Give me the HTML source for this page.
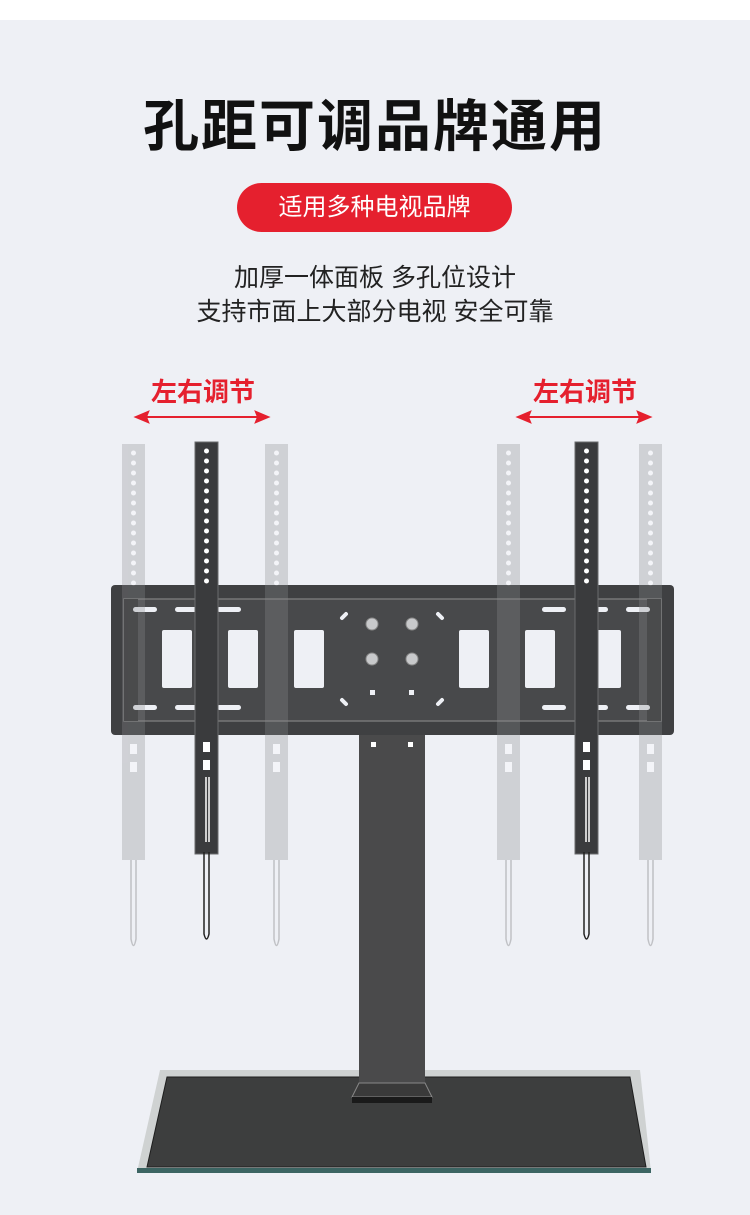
<!DOCTYPE html>
<html><head><meta charset="utf-8"><style>
html,body{margin:0;padding:0;}
body{width:750px;height:1215px;background:#eef0f5;position:relative;overflow:hidden;font-family:"Liberation Sans","Noto Sans CJK SC",sans-serif;}
.top{position:absolute;left:0;top:0;width:750px;height:20px;background:#fff;}
.t{position:absolute;left:0;width:750px;text-align:center;}
</style></head><body>
<div class="top"></div>
<div class="t" style="top:82px;font-size:56px;font-weight:bold;color:#111;letter-spacing:2px;">孔距可调品牌通用</div>
<div style="position:absolute;left:237px;top:183px;width:275px;height:49px;border-radius:25px;background:#e5202e;color:#fff;font-size:24px;line-height:49px;text-align:center;">适用多种电视品牌</div>
<div class="t" style="top:258px;font-size:25px;color:#222;">加厚一体面板 多孔位设计</div>
<div class="t" style="top:292px;font-size:25px;color:#222;">支持市面上大部分电视 安全可靠</div>
<div style="position:absolute;left:151px;top:372px;font-size:26px;font-weight:bold;color:#e5202e;">左右调节</div>
<div style="position:absolute;left:533px;top:372px;font-size:26px;font-weight:bold;color:#e5202e;">左右调节</div>
<svg width="750" height="1215" style="position:absolute;left:0;top:0">
<defs>
<g id="bar">
 <rect x="0" y="0" width="23" height="412" fill="#3a3b3d" stroke="#6a6b6d" stroke-width="1"/>
 <g fill="#fff">
  <circle cx="11.5" cy="9" r="2.5"/><circle cx="11.5" cy="19" r="2.5"/><circle cx="11.5" cy="29" r="2.5"/><circle cx="11.5" cy="39" r="2.5"/><circle cx="11.5" cy="49" r="2.5"/><circle cx="11.5" cy="59" r="2.5"/><circle cx="11.5" cy="69" r="2.5"/><circle cx="11.5" cy="79" r="2.5"/><circle cx="11.5" cy="89" r="2.5"/><circle cx="11.5" cy="99" r="2.5"/><circle cx="11.5" cy="109" r="2.5"/><circle cx="11.5" cy="119" r="2.5"/><circle cx="11.5" cy="129" r="2.5"/><circle cx="11.5" cy="139" r="2.5"/>
  <rect x="8" y="300" width="7" height="10"/><rect x="8" y="318" width="7" height="10"/>
 </g>
 <path d="M11 335 L11 400 M14 335 L14 400" stroke="#fff" stroke-width="1.5"/>
 <path d="M9 410 L9 492 Q11.5 502 14 492 L14 410" stroke="#222" stroke-width="1.5" fill="none"/>
</g>
<g id="gbar" opacity="0.3">
 <rect x="0" y="0" width="23" height="416" fill="#8a8c8f"/>
 <g fill="#fff">
  <circle cx="11.5" cy="9" r="2.5"/><circle cx="11.5" cy="19" r="2.5"/><circle cx="11.5" cy="29" r="2.5"/><circle cx="11.5" cy="39" r="2.5"/><circle cx="11.5" cy="49" r="2.5"/><circle cx="11.5" cy="59" r="2.5"/><circle cx="11.5" cy="69" r="2.5"/><circle cx="11.5" cy="79" r="2.5"/><circle cx="11.5" cy="89" r="2.5"/><circle cx="11.5" cy="99" r="2.5"/><circle cx="11.5" cy="109" r="2.5"/><circle cx="11.5" cy="119" r="2.5"/><circle cx="11.5" cy="129" r="2.5"/><circle cx="11.5" cy="139" r="2.5"/>
  <rect x="8" y="300" width="7" height="10"/><rect x="8" y="318" width="7" height="10"/>
 </g>
 <path d="M9 416 L9 495 Q11.5 508 14 495 L14 416" stroke="#555" stroke-width="1.5" fill="none"/>
</g>
</defs>
<!-- arrows -->
<g stroke="#e5202e" stroke-width="2" fill="#e5202e">
 <line x1="142" y1="417" x2="262" y2="417"/>
 <path d="M136 417 L148 412 L146 417 L148 422Z"/><path d="M268 417 L256 412 L258 417 L256 422Z"/>
 <line x1="524" y1="417" x2="644" y2="417"/>
 <path d="M518 417 L530 412 L528 417 L530 422Z"/><path d="M650 417 L638 412 L640 417 L638 422Z"/>
</g>
<!-- base -->
<path d="M160 1070 L640 1070 L651 1172 L137 1172Z" fill="#cfd2d2"/>
<path d="M167 1077 L630 1077 L646 1167 L147 1167Z" fill="#3d3e3e" stroke="#1e1e1e" stroke-width="1"/>
<rect x="137" y="1168" width="514" height="5" fill="#3c6563"/>
<!-- pole -->
<rect x="359" y="733" width="66" height="352" fill="#4a4a4b"/>
<path d="M359 1083 L425 1083 L432 1097 L352 1097Z" fill="#3a3a3a" stroke="#888" stroke-width="1"/>
<rect x="352" y="1097" width="80" height="6" fill="#1a1a1a"/>
<rect x="371" y="742" width="5" height="5" fill="#fff"/><rect x="408" y="742" width="5" height="5" fill="#fff"/>
<!-- frame -->
<rect x="111" y="585" width="563" height="150" rx="4" fill="#3f4042"/>
<rect x="124" y="599" width="537" height="122" fill="#48494b" stroke="#777" stroke-width="1.5"/>
<rect x="124" y="599" width="14" height="122" fill="#2e2f30"/><rect x="647" y="599" width="14" height="122" fill="#2e2f30"/>
<g fill="#eef0f5">
 <rect x="162" y="630" width="30" height="58" rx="2"/><rect x="228" y="630" width="30" height="58" rx="2"/><rect x="294" y="630" width="30" height="58" rx="2"/>
 <rect x="459" y="630" width="30" height="58" rx="2"/><rect x="525" y="630" width="30" height="58" rx="2"/><rect x="591" y="630" width="30" height="58" rx="2"/>
 <rect x="133" y="607" width="24" height="5" rx="2.5"/><rect x="175" y="607" width="24" height="5" rx="2.5"/><rect x="217" y="607" width="24" height="5" rx="2.5"/>
 <rect x="133" y="705" width="24" height="5" rx="2.5"/><rect x="175" y="705" width="24" height="5" rx="2.5"/><rect x="217" y="705" width="24" height="5" rx="2.5"/>
 <rect x="542" y="607" width="24" height="5" rx="2.5"/><rect x="584" y="607" width="24" height="5" rx="2.5"/><rect x="626" y="607" width="24" height="5" rx="2.5"/>
 <rect x="542" y="705" width="24" height="5" rx="2.5"/><rect x="584" y="705" width="24" height="5" rx="2.5"/><rect x="626" y="705" width="24" height="5" rx="2.5"/>
 <rect x="370" y="690" width="5" height="5"/><rect x="409" y="690" width="5" height="5"/>
</g>
<g stroke="#eef0f5" stroke-width="4" stroke-linecap="round">
 <line x1="342" y1="618" x2="346" y2="614"/><line x1="438" y1="614" x2="442" y2="618"/>
 <line x1="342" y1="700" x2="346" y2="704"/><line x1="438" y1="704" x2="442" y2="700"/>
</g>
<g fill="#c8c9cb" stroke="#888" stroke-width="1">
 <circle cx="372" cy="624" r="6"/><circle cx="412" cy="624" r="6"/><circle cx="372" cy="659" r="6"/><circle cx="412" cy="659" r="6"/>
</g>
<!-- bars -->
<use href="#gbar" x="122" y="444"/><use href="#gbar" x="265" y="444"/>
<use href="#gbar" x="497" y="444"/><use href="#gbar" x="639" y="444"/>
<use href="#bar" x="195" y="442"/><use href="#bar" x="575" y="442"/>
</svg>
</body></html>
